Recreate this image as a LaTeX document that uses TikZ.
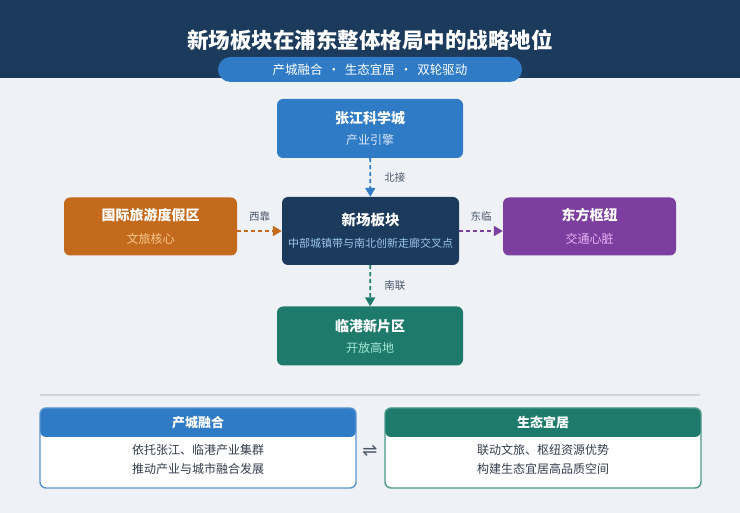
\documentclass[tikz,border=0pt]{standalone}
\usepackage{fontspec}
\setmainfont{Noto Sans CJK SC}
\newfontfamily\symfont{DejaVu Sans}
\usetikzlibrary{arrows.meta}

\definecolor{navyc}{HTML}{1B3A5C}
\definecolor{bluec}{HTML}{2F7BC5}
\definecolor{orangec}{HTML}{C46A1C}
\definecolor{purplec}{HTML}{7D3F9F}
\definecolor{greenc}{HTML}{1E7A6B}
\definecolor{bgc}{HTML}{EEF2F7}
\definecolor{subblue}{HTML}{D6E6F7}
\definecolor{subnavy}{HTML}{9CC6EE}
\definecolor{suborange}{HTML}{F6C890}
\definecolor{subpurple}{HTML}{E6B4F5}
\definecolor{subgreen}{HTML}{A6E8D6}
\definecolor{lblc}{HTML}{4A5568}
\definecolor{textc}{HTML}{333D4D}
\definecolor{bordblue}{HTML}{5A95D2}
\definecolor{bordgreen}{HTML}{4C9A8A}

\begin{document}
\begin{tikzpicture}[x=1pt,y=-1pt,
    box/.style={rounded corners=6pt,minimum width=186pt,minimum height=59pt,
      align=center,text=white,inner sep=0pt,font=\fontsize{12}{13}\selectfont},
    flow/.style={line width=1.8pt,dash pattern=on 4pt off 3pt,
      -{Triangle[length=9pt,width=10pt]}},
    lbl/.style={text=lblc,font=\fontsize{10.5}{12}\selectfont},
    card/.style={rounded corners=6pt,minimum width=316pt,minimum height=80pt,
      fill=white,line width=1.4pt,inner sep=0pt},
    cardhead/.style={text=white,font=\fontsize{13}{15}\selectfont\bfseries},
    cardbody/.style={text=textc,align=center,font=\fontsize{12}{19}\selectfont}]

  % Background and header
  \useasboundingbox (0,0) rectangle (740,513);
  \fill[bgc] (0,0) rectangle (740,513);
  \fill[navyc] (0,0) rectangle (740,78);
  \node[text=white,font=\fontsize{21.5}{26}\selectfont\bfseries] (title) at (370,40)
    {新场板块在浦东整体格局中的战略地位};
  \node[fill=bluec,rounded corners=12.5pt,minimum width=304pt,minimum height=25pt,
    text=white,font=\fontsize{12.5}{15}\selectfont] (motto) at (370,69.5)
    {产城融合 \,·\, 生态宜居 \,·\, 双轮驱动};

  % Define boxes
  \node[box,fill=bluec] (zj) at (370,128.5)
    {{\fontsize{14}{16}\selectfont\bfseries 张江科学城}\\[8pt]{\color{subblue}产业引擎}};
  \node[box,fill=navyc,minimum width=177pt,minimum height=68pt] (xc) at (370.5,231)
    {{\fontsize{14.5}{16}\selectfont\bfseries 新场板块}\\[9pt]{\fontsize{11}{13}\selectfont\color{subnavy}中部城镇带与南北创新走廊交叉点}};
  \node[box,fill=orangec,minimum width=173pt,minimum height=58pt] (gj) at (150.5,226.5)
    {{\fontsize{14}{16}\selectfont\bfseries 国际旅游度假区}\\[10pt]{\color{suborange}文旅核心}};
  \node[box,fill=purplec,minimum width=173pt,minimum height=58pt] (df) at (589.5,226.5)
    {{\fontsize{14}{16}\selectfont\bfseries 东方枢纽}\\[10pt]{\color{subpurple}交通心脏}};
  \node[box,fill=greenc] (lg) at (370,336)
    {{\fontsize{14}{16}\selectfont\bfseries 临港新片区}\\[8pt]{\color{subgreen}开放高地}};

  % Draw links
  \draw[flow,bluec] (zj) -- node[lbl,right=10pt] {北接} (xc);
  \draw[flow,orangec] (gj.east |- xc) -- node[lbl,above=5pt] {西靠} (xc.west);
  \draw[flow,purplec] (xc.east) -- node[lbl,above=5pt] {东临} (df.west |- xc);
  \draw[flow,greenc] (xc) -- node[lbl,right=10pt] {南联} (lg);

  % Separator
  \draw[line width=1.5pt,color=black!12!bgc] (40,395) -- (700,395);

  % Bottom cards
  \node[card,draw=bordblue,path picture={\fill[bluec]
    (path picture bounding box.north west) rectangle
    ([yshift=-29pt]path picture bounding box.north east);}] (cyrh) at (198,448) {};
  \node[cardhead] (cyrhT) at (198,422.5) {产城融合};
  \node[cardbody] (cyrhB) at (198,459.5) {依托张江、临港产业集群\\推动产业与城市融合发展};

  \node[card,draw=bordgreen,path picture={\fill[greenc]
    (path picture bounding box.north west) rectangle
    ([yshift=-29pt]path picture bounding box.north east);}] (stjj) at (543,448) {};
  \node[cardhead] (stjjT) at (543,422.5) {生态宜居};
  \node[cardbody] (stjjB) at (543,459.5) {联动文旅、枢纽资源优势\\构建生态宜居高品质空间};

  \node[text=lblc,font=\symfont\fontsize{18}{20}\selectfont] (swap) at (370,451) {⇌};

\end{tikzpicture}
\end{document}
